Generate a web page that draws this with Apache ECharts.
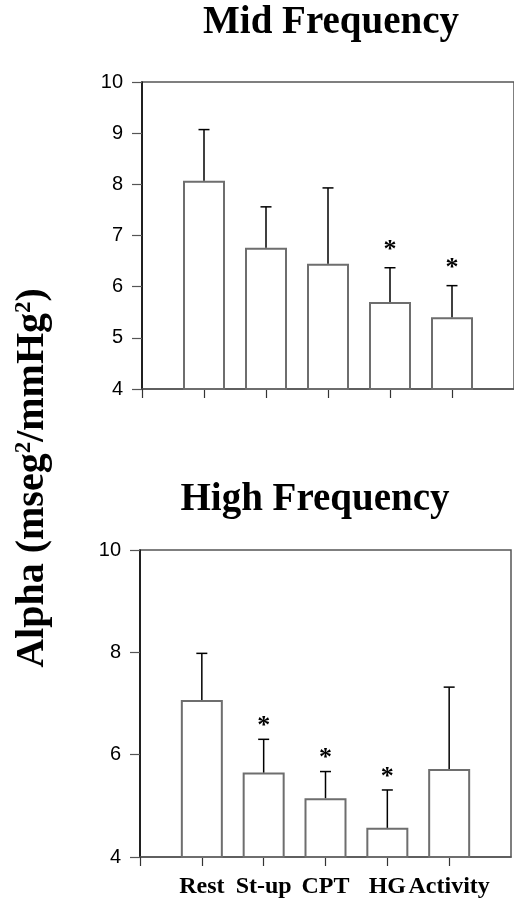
<!DOCTYPE html>
<html>
<head>
<meta charset="utf-8">
<script src="https://cdn.jsdelivr.net/npm/echarts@6/dist/echarts.min.js"></script>
<style>
  html, body { margin: 0; padding: 0; background: #fff; }
  #chart { width: 514px; height: 899px; }
</style>
</head>
<body>
<div id="chart"></div>
<script>
const categories = ['Rest', 'St-up', 'CPT', 'HG', 'Activity']
const midMean = [8.07, 6.76, 6.45, 5.70, 5.40]
const midErr = [9.07, 7.56, 7.93, 6.37, 6.02]
const midStar = [false, false, false, true, true]
const highMean = [7.07, 5.65, 5.15, 4.57, 5.72]
const highErr = [7.98, 6.30, 5.67, 5.31, 7.32]
const highStar = [false, true, true, true, false]
const midTicks = [4, 5, 6, 7, 8, 9, 10]
const highTicks = [4, 6, 8, 10]
const xTicks = [0, 1, 2, 3, 4, 5]

const serif = '"Liberation Serif", "Times New Roman", serif'
const sans = '"Liberation Sans", Arial, sans-serif'

function xAxisFor(grid, withLabels) {
  return {
    type: 'value', gridIndex: grid, min: 0, max: 6, interval: 1,
    axisLine: { lineStyle: { color: '#555', width: 1.5 } },
    axisTick: { inside: false, length: 9, customValues: xTicks, lineStyle: { color: '#333', width: 1.2 } },
    axisLabel: {
      show: withLabels, margin: 18,
      fontFamily: serif, fontWeight: 'bold', fontSize: 24, color: '#000',
      formatter: v => categories[v - 1] || ''
    },
    splitLine: { show: false }
  }
}

function yAxisFor(grid, ticks) {
  return {
    type: 'value', gridIndex: grid,
    min: ticks[0], max: ticks[ticks.length - 1], interval: ticks[1] - ticks[0],
    axisLine: { show: true, lineStyle: { color: '#000', width: 1.5 } },
    axisTick: { show: true, inside: false, length: 10, lineStyle: { color: '#555', width: 1.2 } },
    axisLabel: { fontFamily: sans, fontSize: 20, color: '#000', margin: 19 },
    splitLine: { show: false }
  }
}

function barSeries(grid, mean) {
  return {
    type: 'bar', xAxisIndex: grid, yAxisIndex: grid,
    barWidth: 42,
    data: mean.map((v, i) => [i + 1, v]),
    itemStyle: { color: '#fff', borderColor: '#6e6e6e', borderWidth: 2 },
    silent: true
  }
}

function errSeries(grid, mean, err, star, starGap) {
  return {
    type: 'custom', xAxisIndex: grid, yAxisIndex: grid,
    data: mean.map((v, i) => [i + 1, v, err[i], star[i] ? 1 : 0]),
    renderItem: (params, api) => {
      const x = api.value(0)
      const p0 = api.coord([x, api.value(1)])
      const p1 = api.coord([x, api.value(2)])
      const children = [
        { type: 'line', shape: { x1: p0[0], y1: p0[1], x2: p1[0], y2: p1[1] },
          style: { stroke: '#000', lineWidth: 1.5 } },
        { type: 'line', shape: { x1: p1[0] - 5.5, y1: p1[1], x2: p1[0] + 5.5, y2: p1[1] },
          style: { stroke: '#000', lineWidth: 1.5 } }
      ]
      if (api.value(3)) {
        children.push({
          type: 'text', x: p1[0], y: p1[1] - starGap,
          style: { text: '*', fontFamily: serif, fontWeight: 'bold', fontSize: 26,
            fill: '#000', align: 'center', verticalAlign: 'middle' }
        })
      }
      return { type: 'group', children }
    },
    z: 5, silent: true
  }
}

const chart = echarts.init(document.getElementById('chart'))
chart.setOption({
  animation: false,
  grid: [
    { left: 142, top: 82, width: 375, height: 307, show: true, borderColor: '#555', borderWidth: 1.5 },
    { left: 140, top: 550, width: 372, height: 307, show: true, borderColor: '#555', borderWidth: 1.5 }
  ],
  title: [
    { text: 'Mid Frequency', left: 326, top: -2, textAlign: 'center',
      textStyle: { fontFamily: serif, fontWeight: 'bold', fontSize: 39, color: '#000' } },
    { text: 'High Frequency', left: 310, top: 475, textAlign: 'center',
      textStyle: { fontFamily: serif, fontWeight: 'bold', fontSize: 39, color: '#000' } }
  ],
  xAxis: [xAxisFor(0, false), xAxisFor(1, true)],
  yAxis: [yAxisFor(0, midTicks), yAxisFor(1, highTicks)],
  series: [
    barSeries(0, midMean),
    errSeries(0, midMean, midErr, midStar, 17),
    barSeries(1, highMean),
    errSeries(1, highMean, highErr, highStar, 13)
  ],
  graphic: [{
    type: 'text', x: 33, y: 478, rotation: Math.PI / 2,
    style: {
      text: '{b|Alpha (mseg}{s|2}{b|/mmHg}{s|2}{b|)}',
      align: 'center', verticalAlign: 'middle',
      rich: {
        b: { fontFamily: serif, fontWeight: 'bold', fontSize: 40, fill: '#000', verticalAlign: 'bottom' },
        s: { fontFamily: serif, fontWeight: 'bold', fontSize: 23, fill: '#000', verticalAlign: 'top' }
      }
    }
  }]
})
</script>
</body>
</html>
